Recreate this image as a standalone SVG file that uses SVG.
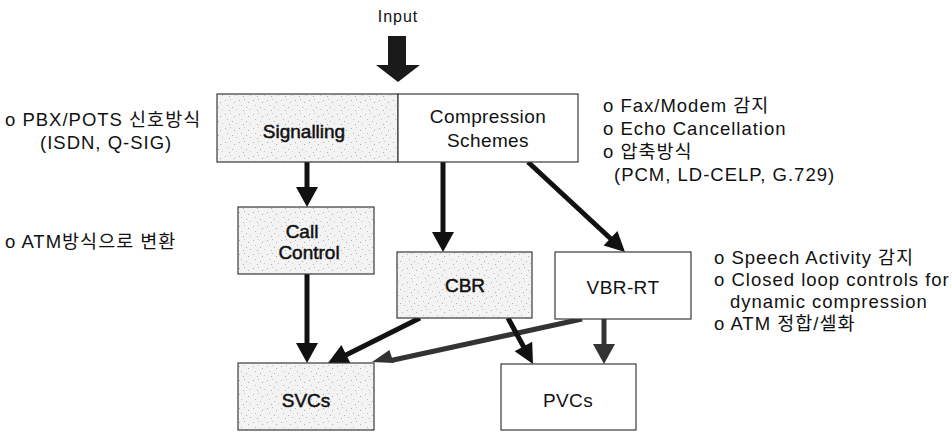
<svg xmlns="http://www.w3.org/2000/svg" width="952" height="433" viewBox="0 0 952 433">
<defs>
<pattern id="speckle" width="14" height="14" patternUnits="userSpaceOnUse">
<rect width="14" height="14" fill="#f3f3f3"/>
<rect x="1" y="2" width="1" height="1" fill="#b0b0b0"/>
<rect x="6" y="1" width="1" height="1" fill="#c4c4c4"/>
<rect x="10" y="4" width="1" height="1" fill="#aaaaaa"/>
<rect x="3" y="7" width="1" height="1" fill="#bcbcbc"/>
<rect x="8" y="9" width="1" height="1" fill="#b0b0b0"/>
<rect x="12" y="11" width="1" height="1" fill="#c6c6c6"/>
<rect x="5" y="12" width="1" height="1" fill="#adadad"/>
</pattern>
<style>
.box{stroke:#3a3a3a;stroke-width:1.2;}
.grey{fill:url(#speckle);}
.white{fill:#ffffff;}
.lbl{font-family:"Liberation Sans","Noto Sans CJK KR",sans-serif;font-size:19px;fill:#111;text-anchor:middle;letter-spacing:0.4px;}
.dark{stroke:#111;stroke-width:0.5px;letter-spacing:0;}
.note{font-family:"Liberation Sans","Noto Sans CJK KR",sans-serif;font-size:18.5px;fill:#111;letter-spacing:1px;}
.shaft{stroke:#111;stroke-width:5;fill:none;}
.head{fill:#111;}
.grayshaft{stroke:#333;stroke-width:5;fill:none;}
.grayhead{fill:#333;}
</style>
</defs>
<rect width="952" height="433" fill="#ffffff"/>

<g id="input">
<text class="lbl" x="398" y="22" style="font-size:16px;letter-spacing:1px">Input</text>
<rect x="388" y="36" width="18" height="30" fill="#1a1a1a"/>
<polygon points="376,65 420,65 398,82" fill="#1a1a1a"/>
</g>

<g id="connectors">
<line class="shaft" x1="307" y1="162" x2="307" y2="188"/>
<polygon class="head" points="296,187 318,187 307,207"/>
<line class="shaft" x1="443" y1="162" x2="443" y2="233"/>
<polygon class="head" points="432,232 454,232 443,252"/>
<line class="shaft" x1="528" y1="162" x2="611" y2="239"/>
<polygon class="head" points="625,252 603.6,245.5 617.4,231.0"/>
<line class="shaft" x1="307" y1="274" x2="307" y2="344"/>
<polygon class="head" points="296,343 318,343 307,363"/>
<line class="shaft" x1="420" y1="318" x2="345" y2="355.5"/>
<polygon class="head" points="328,363 341.4,345.1 350.4,363"/>
<line class="grayshaft" x1="582" y1="319" x2="391" y2="360.5"/>
<polygon class="grayhead" points="372,362 389.4,349.9 393.7,363"/>
<line class="shaft" x1="508" y1="318" x2="524" y2="347.5"/>
<polygon class="head" points="533,364 514.7,351.2 532.2,341.7"/>
<line class="grayshaft" x1="604" y1="319" x2="604" y2="345"/>
<polygon class="grayhead" points="593,344 615,344 604,364"/>
</g>

<g id="signalling">
<rect class="box grey" x="217" y="94" width="181" height="68"/>
<text class="lbl dark" x="304" y="138">Signalling</text>
</g>
<g id="compression">
<rect class="box white" x="398" y="94" width="180" height="68"/>
<text class="lbl" x="488" y="123">Compression</text>
<text class="lbl" x="488" y="147">Schemes</text>
</g>
<g id="call-control">
<rect class="box grey" x="238" y="207" width="136" height="67"/>
<text class="lbl dark" x="302" y="238">Call</text>
<text class="lbl dark" x="309" y="259">Control</text>
</g>
<g id="cbr">
<rect class="box grey" x="397" y="252" width="135" height="66"/>
<text class="lbl dark" x="465" y="292">CBR</text>
</g>
<g id="vbr-rt">
<rect class="box white" x="555" y="252" width="136" height="67"/>
<text class="lbl" x="623" y="294">VBR-RT</text>
</g>
<g id="svcs">
<rect class="box grey" x="238" y="363" width="136" height="67"/>
<text class="lbl dark" x="306" y="407">SVCs</text>
</g>
<g id="pvcs">
<rect class="box white" x="501" y="364" width="135" height="66"/>
<text class="lbl" x="568" y="407">PVCs</text>
</g>

<g id="note-signalling">
<text class="note" x="5" y="126">o PBX/POTS 신호방식</text>
<text class="note" x="40" y="149">(ISDN, Q-SIG)</text>
</g>
<g id="note-call">
<text class="note" x="5" y="248">o ATM방식으로 변환</text>
</g>
<g id="note-compression">
<text class="note" x="603" y="112">o Fax/Modem 감지</text>
<text class="note" x="603" y="135">o Echo Cancellation</text>
<text class="note" x="603" y="158">o 압축방식</text>
<text class="note" x="614" y="181">(PCM, LD-CELP, G.729)</text>
</g>
<g id="note-vbr">
<text class="note" x="714" y="264">o Speech Activity 감지</text>
<text class="note" x="714" y="286">o Closed loop controls for</text>
<text class="note" x="730" y="308">dynamic compression</text>
<text class="note" x="714" y="330">o ATM 정합/셀화</text>
</g>
</svg>
